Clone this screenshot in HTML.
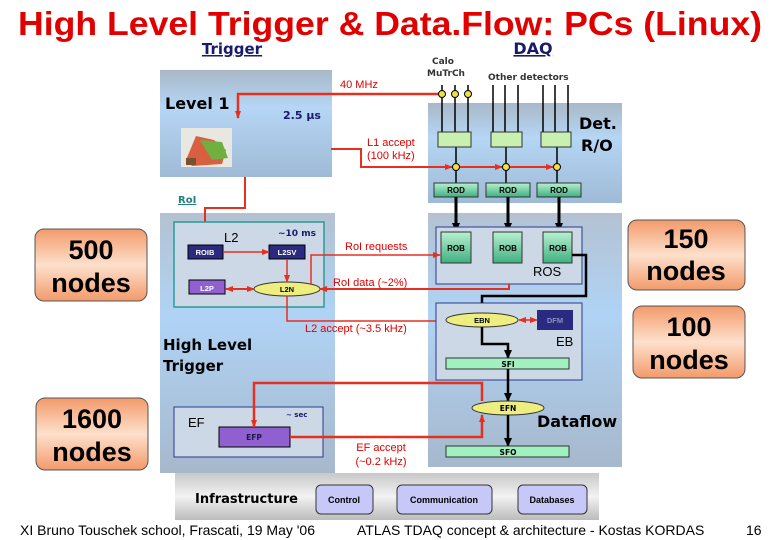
<!DOCTYPE html>
<html><head><meta charset="utf-8"><style>
html,body{margin:0;padding:0;background:#fff;width:780px;height:540px;overflow:hidden}
svg{display:block}
text{font-family:"Liberation Sans",sans-serif}
.c{font-family:"DejaVu Sans","Liberation Sans",sans-serif;font-weight:bold}
</style></head><body>
<svg width="780" height="540" viewBox="0 0 780 540" xmlns="http://www.w3.org/2000/svg">
<defs>
<linearGradient id="bl" x1="0" y1="0" x2="0" y2="1"><stop offset="0" stop-color="#a9b8c8"/><stop offset="0.35" stop-color="#b5d6f5"/><stop offset="1" stop-color="#9fbad6"/></linearGradient>
<linearGradient id="bl2" x1="0" y1="0" x2="0" y2="1"><stop offset="0" stop-color="#b3c2d2"/><stop offset="0.4" stop-color="#b0d3f5"/><stop offset="1" stop-color="#a6b8cc"/></linearGradient>
<linearGradient id="gr" x1="0" y1="0" x2="0" y2="1"><stop offset="0" stop-color="#c8c8c8"/><stop offset="0.5" stop-color="#f2f2f2"/><stop offset="1" stop-color="#bcbcbc"/></linearGradient>
<linearGradient id="or" x1="0" y1="0" x2="0" y2="1"><stop offset="0" stop-color="#f39a6a"/><stop offset="0.5" stop-color="#fde0cc"/><stop offset="1" stop-color="#f39a6a"/></linearGradient>
<linearGradient id="gn" x1="0" y1="0" x2="0" y2="1"><stop offset="0" stop-color="#b8f0d0"/><stop offset="1" stop-color="#40b080"/></linearGradient>
<marker id="ra" markerUnits="userSpaceOnUse" markerWidth="8" markerHeight="8" refX="7" refY="4" orient="auto"><path d="M0,1L8,4L0,7z" fill="#e53020"/></marker>
<marker id="rs" markerUnits="userSpaceOnUse" markerWidth="8" markerHeight="8" refX="1" refY="4" orient="auto"><path d="M8,1L0,4L8,7z" fill="#e53020"/></marker>
<marker id="ka" markerUnits="userSpaceOnUse" markerWidth="10" markerHeight="10" refX="8" refY="5" orient="auto"><path d="M0,1L9,5L0,9z" fill="#000"/></marker>
</defs>
<text x="390" y="35" text-anchor="middle" font-size="33" font-weight="bold" fill="#e00000" textLength="744" lengthAdjust="spacingAndGlyphs">High Level Trigger &amp; Data.Flow: PCs (Linux)</text>
<text x="232" y="54" text-anchor="middle" class="c" font-size="15" fill="#1a1a6a" text-decoration="underline">Trigger</text>
<text x="533" y="54" text-anchor="middle" class="c" font-size="16" fill="#1a1a6a" text-decoration="underline">DAQ</text>

<rect x="160" y="70" width="172" height="107" fill="url(#bl)"/>
<rect x="160" y="213" width="175" height="260" fill="url(#bl2)"/>
<rect x="428" y="103" width="194" height="100" fill="url(#bl)"/>
<rect x="428" y="213" width="194" height="254" fill="url(#bl2)"/>
<rect x="175" y="473" width="424" height="47" fill="url(#gr)"/>

<text x="165" y="109" class="c" font-size="16" fill="#000">Level 1</text>
<text x="283" y="119" class="c" font-size="11" fill="#1a1a6a">2.5 μs</text>
<text x="579" y="129" class="c" font-size="16" fill="#000">Det.</text>
<text x="581" y="151" class="c" font-size="16" fill="#000">R/O</text>
<rect x="181" y="128" width="51" height="39" fill="#e8e8e0"/>
<path d="M186,160 L196,136 L214,140 L226,150 L222,164 L192,166z" fill="#d86040"/>
<path d="M200,140 L222,142 L228,158 L212,160z" fill="#70b040"/>
<rect x="186" y="158" width="10" height="7" fill="#7a5030"/>

<text x="432" y="64" class="c" font-size="9" fill="#333">Calo</text>
<text x="427" y="76" class="c" font-size="9" fill="#333">MuTrCh</text>
<text x="488" y="80" class="c" font-size="9" fill="#333">Other detectors</text>
<text x="340" y="88" font-size="11" fill="#e00000">40 MHz</text>

<g stroke="#000" stroke-width="1.5">
<line x1="442" y1="85" x2="442" y2="132"/><line x1="455" y1="85" x2="455" y2="132"/><line x1="468" y1="85" x2="468" y2="132"/>
<line x1="493" y1="85" x2="493" y2="132"/><line x1="505" y1="85" x2="505" y2="132"/><line x1="518" y1="85" x2="518" y2="132"/>
<line x1="543" y1="85" x2="543" y2="132"/><line x1="555" y1="85" x2="555" y2="132"/><line x1="568" y1="85" x2="568" y2="132"/>
<line x1="456" y1="147" x2="456" y2="183"/><line x1="506" y1="147" x2="506" y2="183"/><line x1="557" y1="147" x2="557" y2="183"/>
</g>
<g fill="#c8f0b0" stroke="#333"><rect x="438" y="132" width="33" height="15"/><rect x="491" y="132" width="31" height="15"/><rect x="541" y="132" width="30" height="15"/></g>
<path d="M440,94 L238,94 L238,118" fill="none" stroke="#e53020" stroke-width="2.5" marker-end="url(#ra)"/>
<path d="M331,149 L361,149 L361,167 L452,167" fill="none" stroke="#e53020" stroke-width="2" marker-end="url(#ra)"/>
<path d="M460,167 L502,167" fill="none" stroke="#e53020" stroke-width="2" marker-end="url(#ra)"/>
<path d="M510,167 L553,167" fill="none" stroke="#e53020" stroke-width="2" marker-end="url(#ra)"/>
<g fill="#f0e040" stroke="#000"><circle cx="442" cy="94" r="3.5"/><circle cx="455" cy="94" r="3.5"/><circle cx="468" cy="94" r="3.5"/><circle cx="456" cy="167" r="3.5"/><circle cx="506" cy="167" r="3.5"/><circle cx="557" cy="167" r="3.5"/></g>
<text x="367" y="146" font-size="11" fill="#e00000">L1 accept</text>
<text x="367" y="159" font-size="11" fill="#e00000">(100 kHz)</text>

<g fill="url(#gn)" stroke="#333"><rect x="434" y="183" width="44" height="14"/><rect x="486" y="183" width="44" height="14"/><rect x="537" y="183" width="44" height="14"/></g>
<g class="c" font-size="8" fill="#000" text-anchor="middle"><text x="456" y="193">ROD</text><text x="508" y="193">ROD</text><text x="559" y="193">ROD</text></g>
<g stroke="#000" stroke-width="3"><line x1="456" y1="197" x2="456" y2="231" marker-end="url(#ka)"/><line x1="508" y1="197" x2="508" y2="231" marker-end="url(#ka)"/><line x1="559" y1="197" x2="559" y2="231" marker-end="url(#ka)"/></g>

<rect x="436" y="227" width="146" height="57" fill="#cdd8e6" stroke="#2a3a8a"/>
<g fill="url(#gn)" stroke="#333"><rect x="441" y="232" width="30" height="31"/><rect x="493" y="232" width="29" height="31"/><rect x="543" y="232" width="29" height="31"/></g>
<g class="c" font-size="8" fill="#000" text-anchor="middle"><text x="456" y="251">ROB</text><text x="508" y="251">ROB</text><text x="558" y="251">ROB</text></g>
<text x="533" y="276" font-size="13" fill="#000">ROS</text>
<path d="M572,255 L586,255 L586,296 L482,296 L482,313" fill="none" stroke="#000" stroke-width="2.5" marker-end="url(#ka)"/>

<text x="178" y="203" class="c" font-size="10" fill="#208080" text-decoration="underline">RoI</text>
<path d="M245,177 L245,208 L205,208 L205,245" fill="none" stroke="#e53020" stroke-width="2" marker-end="url(#ra)"/>
<rect x="174" y="222" width="150" height="85" fill="#cdd8e6" stroke="#2a9a9a" stroke-width="1.5"/>
<text x="224" y="242" font-size="13" fill="#000">L2</text>
<text x="278" y="236" class="c" font-size="9" fill="#1a1a6a">~10 ms</text>
<rect x="188" y="245" width="35" height="14" fill="#2a2a80" stroke="#000"/>
<rect x="269" y="245" width="36" height="14" fill="#2a2a80" stroke="#000"/>
<rect x="189" y="280" width="36" height="14" fill="#9060d0" stroke="#000"/>
<ellipse cx="287" cy="289" rx="33" ry="7" fill="#eeee80" stroke="#333"/>
<g class="c" font-size="7.5" text-anchor="middle"><text x="205" y="255" fill="#fff">ROIB</text><text x="287" y="255" fill="#fff">L2SV</text><text x="207" y="291" fill="#fff">L2P</text><text x="287" y="292" fill="#000">L2N</text></g>
<line x1="223" y1="252" x2="269" y2="252" stroke="#e53020" stroke-width="1.5" marker-end="url(#ra)"/>
<line x1="287" y1="259" x2="287" y2="282" stroke="#e53020" stroke-width="1.5" marker-end="url(#ra)"/>
<line x1="226" y1="289" x2="254" y2="289" stroke="#e53020" stroke-width="2" marker-start="url(#rs)" marker-end="url(#ra)"/>
<path d="M311,285 L311,255 L440,255" fill="none" stroke="#e53020" stroke-width="1.5" marker-end="url(#ra)"/>
<path d="M509,284 L509,289 L320,289" fill="none" stroke="#e53020" stroke-width="2" marker-end="url(#ra)"/>
<text x="345" y="250" font-size="11" fill="#e00000">RoI requests</text>
<text x="333" y="286" font-size="11" fill="#e00000">RoI data (~2%)</text>
<path d="M287,296 L287,321 L446,321" fill="none" stroke="#e53020" stroke-width="1.5" marker-end="url(#ra)"/>
<text x="305" y="332" font-size="11" fill="#e00000">L2 accept (~3.5 kHz)</text>

<text x="163" y="350" class="c" font-size="15" fill="#000">High Level</text>
<text x="163" y="371" class="c" font-size="15" fill="#000">Trigger</text>

<rect x="436" y="303" width="146" height="77" fill="#cdd8e6" stroke="#2a3a8a"/>
<ellipse cx="482" cy="320" rx="36" ry="7" fill="#eeee80" stroke="#333"/>
<rect x="537" y="310" width="36" height="20" fill="#2a2a80"/>
<line x1="519" y1="320" x2="537" y2="320" stroke="#e53020" stroke-width="1.5" marker-start="url(#rs)" marker-end="url(#ra)"/>
<g class="c" font-size="7.5" text-anchor="middle"><text x="482" y="323" fill="#000">EBN</text><text x="555" y="323" fill="#9090c0">DFM</text></g>
<text x="556" y="346" font-size="13" fill="#000">EB</text>
<path d="M482,327 L482,344 L508,344 L508,358" fill="none" stroke="#000" stroke-width="2.5" marker-end="url(#ka)"/>
<rect x="446" y="358" width="123" height="11" fill="#a0f0c0" stroke="#333"/>
<text x="508" y="367" class="c" font-size="7.5" text-anchor="middle">SFI</text>
<line x1="508" y1="369" x2="508" y2="401" stroke="#000" stroke-width="2.5" marker-end="url(#ka)"/>
<ellipse cx="508" cy="408" rx="36" ry="7" fill="#eeee80" stroke="#333"/>
<text x="508" y="411" class="c" font-size="7.5" text-anchor="middle">EFN</text>
<line x1="508" y1="415" x2="508" y2="446" stroke="#000" stroke-width="2.5" marker-end="url(#ka)"/>
<rect x="446" y="446" width="123" height="11" fill="#a0f0c0" stroke="#333"/>
<text x="508" y="455" class="c" font-size="7.5" text-anchor="middle">SFO</text>
<text x="537" y="427" class="c" font-size="16" fill="#000">Dataflow</text>

<rect x="174" y="407" width="149" height="50" fill="#cdd8e6" stroke="#2a3a8a"/>
<text x="188" y="427" font-size="13" fill="#000">EF</text>
<text x="286" y="417" class="c" font-size="7" fill="#1a1a6a">~ sec</text>
<rect x="219" y="427" width="71" height="20" fill="#9060d0" stroke="#000"/>
<text x="254" y="440" class="c" font-size="7.5" text-anchor="middle" fill="#1a1a4a">EFP</text>
<path d="M482,401 L482,383 L254,383 L254,427" fill="none" stroke="#e53020" stroke-width="2.5" marker-end="url(#ra)"/>
<path d="M290,437 L482,437 L482,415" fill="none" stroke="#e53020" stroke-width="2.5" marker-end="url(#ra)"/>
<text x="381" y="451" font-size="11" fill="#e00000" text-anchor="middle">EF accept</text>
<text x="381" y="465" font-size="11" fill="#e00000" text-anchor="middle">(~0.2 kHz)</text>

<text x="195" y="503" class="c" font-size="13" fill="#000">Infrastructure</text>
<g fill="#c8c8f8" stroke="#333"><rect x="316" y="485" width="57" height="29" rx="5"/><rect x="397" y="485" width="95" height="29" rx="5"/><rect x="518" y="485" width="69" height="29" rx="5"/></g>
<g class="c" font-size="9" fill="#000" text-anchor="middle"><text x="344" y="503">Control</text><text x="444" y="503">Communication</text><text x="552" y="503">Databases</text></g>

<g fill="url(#or)" stroke="#555"><rect x="35" y="229" width="112" height="72" rx="9"/><rect x="36" y="398" width="112" height="72" rx="9"/><rect x="628" y="220" width="117" height="70" rx="9"/><rect x="633" y="306" width="112" height="72" rx="9"/></g>
<g font-size="27" font-weight="bold" text-anchor="middle" fill="#000"><text x="91" y="259">500</text><text x="91" y="292">nodes</text><text x="92" y="428">1600</text><text x="92" y="461">nodes</text><text x="686" y="248">150</text><text x="686" y="280">nodes</text><text x="689" y="336">100</text><text x="689" y="369">nodes</text></g>

<text x="20" y="535" font-size="14" fill="#000">XI Bruno Touschek school, Frascati, 19 May '06</text>
<text x="357" y="535" font-size="14" fill="#000">ATLAS TDAQ concept &amp; architecture - Kostas KORDAS</text>
<text x="746" y="535" font-size="14" fill="#000">16</text>
</svg>
</body></html>
